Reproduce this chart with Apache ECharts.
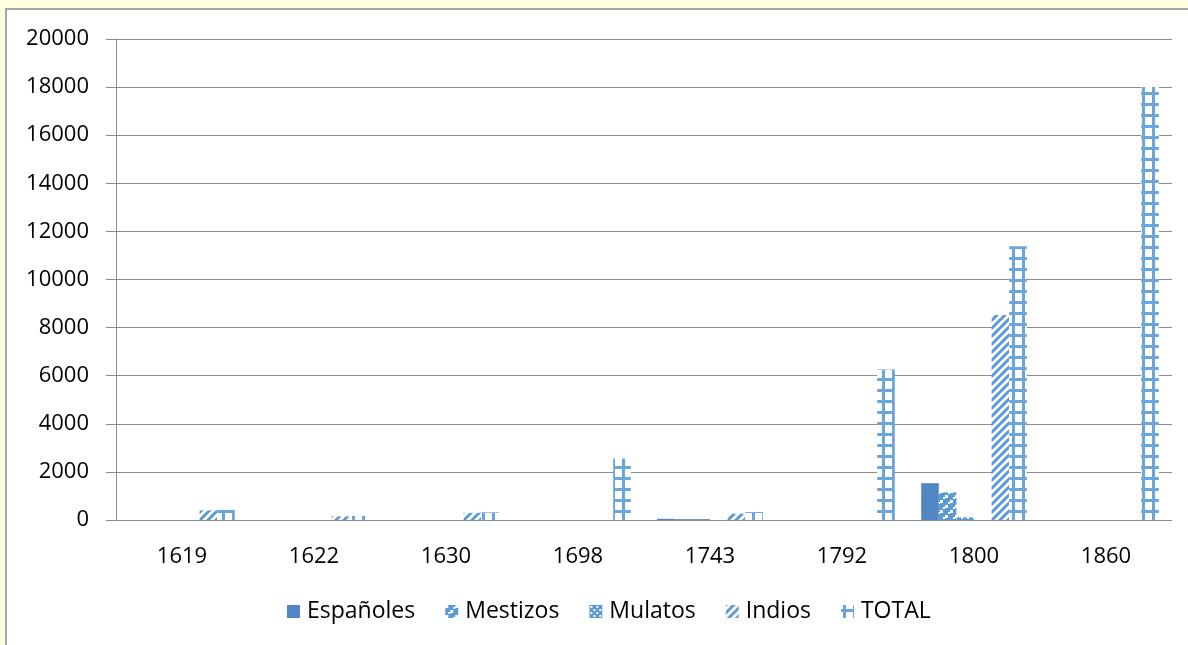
<!DOCTYPE html>
<html>
<head>
<meta charset="utf-8">
<script src="https://cdn.jsdelivr.net/npm/echarts@6/dist/echarts.min.js"></script>
<style>
  html, body { margin: 0; padding: 0; background: #ffffe0; overflow: hidden; }
  #panel { position: absolute; left: 5px; top: 8px; width: 1300px; height: 800px;
           border: 2px solid #a6a6a6; background: #fff; }
  #main { position: absolute; left: 0; top: 0; width: 1188px; height: 645px; }
</style>
</head>
<body>
<div id="panel"></div>
<div id="main"></div>
<script>
// years on the x axis
var years = ['1619', '1622', '1630', '1698', '1743', '1792', '1800', '1860'];
var espanoles = [null, null, null, null, 50, null, 1530, null];
var mestizos  = [null, null, null, null, 40, null, 1150, null];
var mulatos   = [null, null, null, null, 40, null, 110, null];
var emptySlot = [null, null, null, null, null, null, null, null];
var indios    = [400, 150, 300, null, 260, null, 8520, null];
var total     = [420, 170, 320, 2560, 330, 6260, 11380, 18000];
var yTicks = [0, 2000, 4000, 6000, 8000, 10000, 12000, 14000, 16000, 18000, 20000];

var blue = '#5b9bd5';

function makePattern(w, h, draw) {
  var c = document.createElement('canvas');
  c.width = w; c.height = h;
  var ctx = c.getContext('2d');
  draw(ctx, w, h);
  return { image: c, repeat: 'repeat' };
}

// diagonal stripes
var indiosFill = makePattern(8, 8, function (ctx, w, h) {
  ctx.fillStyle = '#fff'; ctx.fillRect(0, 0, w, h);
  ctx.strokeStyle = blue; ctx.lineWidth = 3;
  for (var k = -1; k <= 1; k++) {
    ctx.beginPath();
    ctx.moveTo(k * 8 - 1, h + 1);
    ctx.lineTo(k * 8 + w + 1, -1);
    ctx.stroke();
  }
});

// ladder grid
var totalFill = makePattern(10, 11, function (ctx, w, h) {
  ctx.fillStyle = '#fff'; ctx.fillRect(0, 0, w, h);
  ctx.fillStyle = '#6aa5dc';
  ctx.fillRect(2, 0, 3, h);
  ctx.fillRect(0, 4, w, 3);
});

// blocky weave
var mestizosFill = makePattern(10, 10, function (ctx, w, h) {
  ctx.fillStyle = blue; ctx.fillRect(0, 0, w, h);
  ctx.fillStyle = '#fff';
  ctx.fillRect(0, 0, 3, 3);
  ctx.fillRect(5, 5, 3, 3);
  ctx.fillRect(8, 2, 2, 2);
  ctx.fillRect(3, 7, 2, 2);
});

// dots
var mulatosFill = makePattern(6, 6, function (ctx, w, h) {
  ctx.fillStyle = blue; ctx.fillRect(0, 0, w, h);
  ctx.fillStyle = '#fff';
  ctx.fillRect(1, 1, 2, 2);
  ctx.fillRect(4, 4, 2, 2);
});

var font = '"Open Sans", "Liberation Sans", sans-serif';

var myChart = echarts.init(document.getElementById('main'));
myChart.setOption({
  backgroundColor: 'transparent',
  animation: false,
  textStyle: { fontFamily: font },
  grid: { left: 116, right: 16, top: 39, bottom: 125 },
  legend: {
    data: ['Españoles', 'Mestizos', 'Mulatos', 'Indios', 'TOTAL'],
    bottom: 17,
    left: 282,
    itemWidth: 13,
    itemHeight: 13,
    itemGap: 30,
    icon: 'rect',
    textStyle: { fontSize: 23, color: '#000', fontFamily: font, padding: [0, 0, 0, 2] }
  },
  xAxis: {
    type: 'category',
    data: years,
    axisLine: { lineStyle: { color: '#8c8c8c', width: 1 } },
    axisTick: { length: 9, lineStyle: { color: '#8c8c8c' } },
    axisLabel: { fontSize: 22, color: '#000', margin: 26, fontFamily: font }
  },
  yAxis: {
    type: 'value',
    min: yTicks[0],
    max: yTicks[yTicks.length - 1],
    interval: yTicks[1] - yTicks[0],
    axisLine: { show: true, lineStyle: { color: '#8c8c8c', width: 1 } },
    axisTick: { show: true, length: 10, lineStyle: { color: '#8c8c8c' } },
    axisLabel: { fontSize: 22, color: '#000', margin: 27, fontFamily: font,
      formatter: function (v) { return String(v); } },
    splitLine: { lineStyle: { color: '#8c8c8c', width: 1 } }
  },
  series: [
    { name: 'Españoles', type: 'bar', data: espanoles, barGap: '0%', barCategoryGap: '20%',
      itemStyle: { color: '#4f86c3' } },
    { name: 'Mestizos', type: 'bar', data: mestizos, itemStyle: { color: mestizosFill } },
    { name: 'Mulatos', type: 'bar', data: mulatos, itemStyle: { color: mulatosFill } },
    { name: '', type: 'bar', data: emptySlot, itemStyle: { color: 'transparent' } },
    { name: 'Indios', type: 'bar', data: indios, itemStyle: { color: indiosFill } },
    { name: 'TOTAL', type: 'bar', data: total, itemStyle: { color: totalFill } }
  ]
});
</script>
</body>
</html>
